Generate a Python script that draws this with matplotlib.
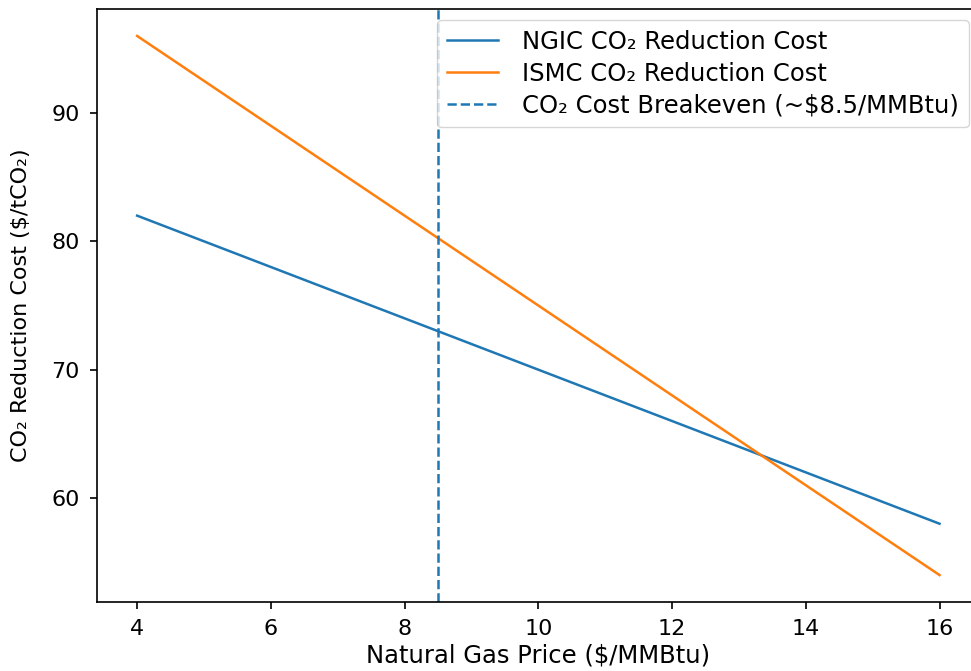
import numpy as np
import matplotlib
matplotlib.use('Agg')
import matplotlib.pyplot as plt

# natural gas price ($/MMBtu)
gas_price = [4, 5, 6, 7, 8, 9, 10, 11, 12, 13, 14, 15, 16]
# CO2 reduction cost ($/tCO2)
ngic_cost = [82, 80, 78, 76, 74, 72, 70, 68, 66, 64, 62, 60, 58]
ismc_cost = [96, 92.5, 89, 85.5, 82, 78.5, 75, 71.5, 68, 64.5, 61, 57.5, 54]
breakeven = 8.5

fig = plt.figure(figsize=(9.71, 6.71), dpi=100)
ax = fig.add_axes([0.0999, 0.1028, 0.909, 0.8838])

ax.plot(gas_price, ngic_cost, label='NGIC CO₂ Reduction Cost', lw=1.8)
ax.plot(gas_price, ismc_cost, label='ISMC CO₂ Reduction Cost', lw=1.8)
ax.axvline(breakeven, linestyle='--', lw=1.8,
           label='CO₂ Cost Breakeven (~$8.5/MMBtu)')

ax.set_xlabel('Natural Gas Price ($/MMBtu)', fontsize=17.5, labelpad=3)
ax.set_ylabel('CO₂ Reduction Cost ($/tCO₂)', fontsize=16, labelpad=15)
ax.tick_params(labelsize=16, length=5.3, width=1.2, pad=7)
for s in ax.spines.values():
    s.set_linewidth(1.2)
ax.legend(loc='upper right', fontsize=17.5, labelspacing=0.33,
          handlelength=2.1, handletextpad=1.0, borderaxespad=0.45)

fig.savefig('out.png', dpi=100)
